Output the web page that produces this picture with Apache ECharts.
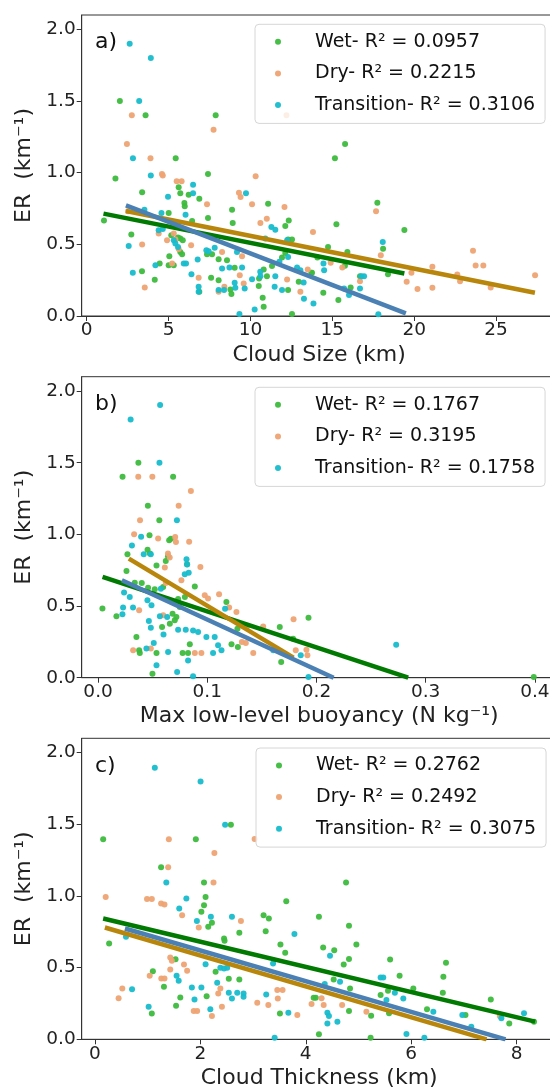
<!DOCTYPE html>
<html><head><meta charset="utf-8">
<script src="https://cdn.jsdelivr.net/npm/echarts@6/dist/echarts.min.js"></script>
<style>html,body{margin:0;padding:0;background:#fff}#c{width:550px;height:1091px}</style>
</head><body><div id="c"></div>
<script>
// ---------- data ----------
const panelLabels = ['a)', 'b)', 'c)'];
const xNames = ['Cloud Size (km)', 'Max low-level buoyancy (N kg\u207B\u00B9)', 'Cloud Thickness (km)'];
const yName = 'ER  (km\u207B\u00B9)';
const yTicks = [0, 0.5, 1.0, 1.5, 2.0];
const xTicksA = [0, 5, 10, 15, 20, 25];
const xTicksB = [0.0, 0.1, 0.2, 0.3, 0.4];
const xTicksC = [0, 2, 4, 6, 8];
const namesA = ['Wet- R\u00B2 = 0.0957', 'Dry- R\u00B2 = 0.2215', 'Transition- R\u00B2 = 0.3106'];
const namesB = ['Wet- R\u00B2 = 0.1767', 'Dry- R\u00B2 = 0.3195', 'Transition- R\u00B2 = 0.1758'];
const namesC = ['Wet- R\u00B2 = 0.2762', 'Dry- R\u00B2 = 0.2492', 'Transition- R\u00B2 = 0.3075'];

const wetA = [[2.03,1.50],[3.6,1.40],[7.88,1.40],[1.76,0.96],[5.44,1.10],[15.16,1.10],[15.78,1.20],[7.41,0.99],[17.75,0.79],[19.4,0.60],[15.25,0.64],
[3.39,0.864],[5.62,0.899],[5.72,0.857],[5.97,0.788],[5.99,0.765],[6.23,0.846],[6.88,0.818],[7.41,0.683],[8.88,0.741],[8.92,0.649],[11.08,0.783],[1.06,0.667],[5.01,0.718],[2.73,0.568],[5.17,0.563],[5.58,0.547],[5.72,0.54],[5.87,0.528],[6.44,0.663],[3.38,0.313],[4.16,0.253],[4.46,0.366],[5.05,0.417],[5.01,0.354],[5.32,0.354],[5.72,0.447],[5.83,0.431],[7.35,0.431],[7.66,0.431],[8.06,0.396],[8.57,0.389],[9.04,0.336],[7.6,0.266],[8.06,0.25],[6.88,0.169],[8.78,0.185],[8.84,0.153],[10.51,0.209],[10.75,0.127],[10.81,0.065],[10.53,0.262],[10.81,0.324],[11.01,0.278],[11.32,0.348],[11.93,0.408],[12.13,0.44],[12.3,0.533],[12.54,0.533],[12.13,0.628],[12.34,0.667],[12.54,0.014],[12.3,0.181],[12.95,0.239],[13.76,0.301],
[14.74,0.482],[15.92,0.447],[18.1,0.47],[14.09,0.408],[13.72,0.301],[14.45,0.162],[15.37,0.111],[16.12,0.199],[16.69,0.278],[18.4,0.292],[15.77,0.35]];
const dryA = [[2.76,1.40],[2.46,1.20],[7.75,1.30],[3.9,1.10],[4.6,0.99],[4.65,0.98],[10.32,0.975],[5.5,0.94],[5.8,0.94],[9.3,0.86],[9.4,0.83],[10.1,0.78],[7.35,0.78],[12.08,0.76],[17.67,0.73],[12.2,1.40],
[10.61,0.649],[11.0,0.679],[13.82,0.586],[2.53,0.73],[3.39,0.498],[4.4,0.575],[4.91,0.528],[5.32,0.575],[5.42,0.533],[5.62,0.468],[6.38,0.494],[6.84,0.266],[3.55,0.199],[5.22,0.366],[8.27,0.447],[9.49,0.417],[9.35,0.285],[9.59,0.227],[8.41,0.204],[8.06,0.169],[12.24,0.255],[13.05,0.169],[13.5,0.324],
[14.9,0.371],[15.61,0.338],[17.96,0.424],[16.69,0.243],[21.11,0.343],[19.83,0.301],[19.54,0.239],[20.2,0.188],[21.11,0.197],[22.63,0.29],[22.8,0.243],[23.59,0.456],[23.75,0.352],[24.22,0.352],[24.67,0.199],[27.38,0.285]];
const transA = [[2.63,1.90],[3.92,1.80],[3.21,1.50],[2.83,1.10],[3.92,0.98],
[6.5,0.915],[9.73,0.857],[4.97,0.832],[6.5,0.857],[6.04,0.707],[3.53,0.741],[4.57,0.718],[4.4,0.598],[4.65,0.607],[5.32,0.528],[5.42,0.505],[5.58,0.482],[2.57,0.489],[2.82,0.301],[4.2,0.354],[5.93,0.366],[6.07,0.366],[6.78,0.394],[6.4,0.292],[6.84,0.204],[6.84,0.169],[7.31,0.459],[7.45,0.452],[7.82,0.477],[8.27,0.331],[8.72,0.338],[9.18,0.447],[9.49,0.338],[9.04,0.232],[9.08,0.197],[9.65,0.192],[8.39,0.181],[8.06,0.181],[9.33,0.014],[10.26,0.046],[10.1,0.257],[10.6,0.308],[10.61,0.278],[11.28,0.621],[11.52,0.602],[10.91,0.54],[11.52,0.278],[11.48,0.204],[11.93,0.181],[12.3,0.412],[12.24,0.528],[11.77,0.378],[12.85,0.338],[13.05,0.32],[13.27,0.12],
[13.25,0.234],[13.85,0.088],[14.46,0.366],[14.5,0.32],[15.72,0.192],[16.02,0.146],[16.69,0.192],[16.94,0.278],[16.77,0.278],[18.08,0.517],[17.81,0.012]];

const wetB = [[0.0369,1.499],[0.0224,1.402],[0.0687,1.402],[0.0456,1.199],[0.0561,1.099],[0.0471,0.994],[0.399,0.005],[0.1927,0.419],[0.1664,0.354],[0.1677,0.109],[0.004,0.482],
[0.0651,0.959],[0.0667,0.97],[0.0453,0.893],[0.0269,0.861],[0.026,0.744],[0.0474,0.866],[0.062,0.815],[0.064,0.847],[0.0535,0.782],[0.0815,0.791],[0.0886,0.637],[0.0336,0.663],[0.04,0.661],[0.0168,0.428],[0.0458,0.628],[0.0519,0.617],[0.0596,0.633],[0.0733,0.549],[0.0795,0.563],[0.0657,0.377],[0.0702,0.4],[0.0682,0.447],[0.0717,0.424],[0.0586,0.354],[0.0351,0.284],[0.0376,0.191],[0.0382,0.172],[0.0535,0.172],[0.0498,0.028],[0.0774,0.172],[0.0824,0.172],[0.084,0.233],[0.1175,0.528],[0.1068,0.458],[0.1276,0.342],[0.1786,0.272],[0.0748,0.493],[0.1222,0.233],[0.128,0.214]];
const dryB = [[0.0368,1.402],[0.0497,1.402],[0.085,1.302],[0.0738,1.199],[0.0384,1.099],[0.033,1.001],[0.0834,0.948],[0.179,0.407],
[0.055,0.971],[0.0706,0.982],[0.0713,0.947],[0.064,0.866],[0.0656,0.838],[0.0611,0.768],[0.0937,0.773],[0.0763,0.68],[0.062,0.661],[0.0977,0.575],[0.1007,0.552],[0.1108,0.582],[0.12,0.489],[0.1267,0.458],[0.1353,0.242],[0.1421,0.172],[0.1512,0.358],[0.181,0.191],[0.1908,0.195],[0.1917,0.156],[0.0376,0.47],[0.0321,0.191],[0.0483,0.203],[0.0596,0.435],[0.0886,0.172],[0.0946,0.172],[0.1364,0.361],[0.1317,0.249]];
const transB = [[0.0298,1.802],[0.0568,1.902],[0.0562,1.499],[0.0722,1.099],[0.0394,0.983],[0.031,0.922],[0.273,0.23],[0.081,0.827],[0.083,0.733],
[0.0483,0.861],[0.0418,0.861],[0.0815,0.79],[0.0794,0.721],[0.0575,0.621],[0.0452,0.54],[0.0489,0.505],[0.0229,0.489],[0.0223,0.442],[0.032,0.489],[0.0238,0.594],[0.029,0.563],[0.0465,0.395],[0.0483,0.349],[0.0566,0.428],[0.0633,0.424],[0.0733,0.335],[0.0803,0.335],[0.087,0.33],[0.0916,0.319],[0.0992,0.284],[0.1068,0.284],[0.1099,0.226],[0.113,0.191],[0.1053,0.172],[0.0599,0.302],[0.051,0.242],[0.0641,0.179],[0.0443,0.203],[0.0535,0.086],[0.0724,0.039],[0.087,0.01],[0.0824,0.12],[0.1163,0.481],[0.1604,0.191],[0.1927,0.005],[0.1856,0.156]];

const wetC = [[0.157,1.396],[1.915,1.396],[2.58,1.496],[1.256,1.2],[2.07,1.094],[4.764,1.094],[2.1,0.993],[2.07,0.936],[2.02,0.89],[3.2,0.866],[3.3,0.843],[3.63,0.963],[4.25,0.855],[4.82,0.792],[0.27,0.669],[4.96,0.662],[5.6,0.557],[6.66,0.534],[5.78,0.443],[6.61,0.436],[7.51,0.278],[7.86,0.111],
[2.15,0.785],[2.22,0.813],[3.24,0.754],[2.45,0.703],[2.46,0.688],[2.74,0.743],[3.52,0.661],[3.61,0.603],[1.53,0.559],[1.1,0.475],[1.31,0.367],[1.62,0.292],[1.54,0.234],[1.08,0.18],[2.12,0.301],[2.29,0.471],[2.54,0.422],[2.74,0.417],[3.51,0.18],
[4.33,0.641],[4.54,0.622],[4.72,0.522],[4.82,0.561],[6.6,0.325],[5.42,0.309],[5.56,0.339],[6.04,0.355],[6.3,0.209],[5.58,0.181],[5.24,0.165],[4.82,0.197],[4.84,0.355],[4.53,0.418],[4.19,0.29],[4.15,0.29],[4.25,0.035],[5.23,0.011],[7.03,0.169],[8.33,0.123]];
const dryC = [[0.205,0.993],[1.403,1.396],[2.267,1.3],[1.39,1.2],[2.25,1.094],[3.03,1.398],[0.989,0.978],[1.08,0.978],[1.256,0.948],[1.32,0.941],[1.655,0.866],[1.97,0.78],[2.77,0.825],[0.45,0.286],[0.52,0.355],
[1.43,0.571],[1.46,0.548],[1.69,0.522],[1.75,0.478],[1.43,0.487],[1.04,0.443],[1.26,0.425],[1.32,0.425],[1.875,0.197],[1.94,0.197],[2.22,0.162],[2.41,0.227],[2.34,0.32],[2.38,0.355],[3.08,0.255],[3.29,0.239],[3.47,0.285],[3.46,0.344],[3.56,0.344],[3.84,0.169],
[4.11,0.246],[4.34,0.239],[4.3,0.286],[4.69,0.239],[5.15,0.193],[7.68,0.162]];
const transC = [[1.137,1.895],[2.005,1.798],[2.47,1.496],[1.355,1.094],[1.735,0.983],[1.935,0.825],[2.2,0.855],[2.6,0.855],[3.785,0.734],[0.59,0.715],[1.6,0.913],
[0.705,0.35],[1.02,0.227],[1.55,0.443],[1.59,0.408],[1.84,0.362],[2.02,0.362],[1.89,0.278],[2.1,0.524],[2.19,0.209],[2.32,0.394],[2.38,0.5],[2.45,0.494],[2.51,0.5],[2.54,0.325],[2.6,0.285],[2.7,0.325],[2.82,0.32],[2.82,0.297],[3.25,0.313],[3.38,0.529],[3.67,0.185],[3.41,0.011],
[4.46,0.583],[4.65,0.402],[4.36,0.385],[4.41,0.185],[4.44,0.162],[4.41,0.111],[4.6,0.123],[5.42,0.432],[5.47,0.432],[5.69,0.325],[5.85,0.285],[5.53,0.274],[6.42,0.193],[6.97,0.169],[7.14,0.088],[7.71,0.146],[8.14,0.181],[5.91,0.037],[6.25,0.011]];

// fit lines (endpoints)
const fitWetA = [[1.03,0.714],[19.4,0.297]];
const fitDryA = [[2.4,0.732],[27.37,0.162]];
const fitTransA = [[2.4,0.772],[19.49,0.019]];
const fitWetB = [[0.0041,0.703],[0.284,0.0]];
const fitDryB = [[0.0282,0.831],[0.179,0.14]];
const fitTransB = [[0.0218,0.68],[0.2157,0.0]];
const fitWetC = [[0.157,0.843],[8.35,0.123]];
const fitDryC = [[0.19,0.78],[7.43,0.0]];
const fitTransC = [[0.57,0.773],[7.79,0.0]];

// ---------- style / layout ----------
const FONT = 'DejaVu Sans';
const ptColors = ['#3dbb3d', '#eea372', '#17bccc'];
const lnColors = ['#007a00', '#b8860b', '#4a80b4'];
const gridTops = [15, 376.7, 738.3];
const gridH = 301;
const gridLeft = 81.7, gridW = 475;
const xRanges = [[-0.3, 28.7], [-0.015, 0.42], [-0.25, 8.76]];
const xTickSets = [xTicksA, xTicksB, xTicksC];
const xFmt = [v => String(Math.round(v)), v => v.toFixed(1), v => String(Math.round(v))];
const legendPos = [[255, 24.3], [255, 387.3], [256, 748]];

const pts = [[wetA, dryA, transA], [wetB, dryB, transB], [wetC, dryC, transC]];
const fits = [[fitWetA, fitDryA, fitTransA], [fitWetB, fitDryB, fitTransB], [fitWetC, fitDryC, fitTransC]];
const names = [namesA, namesB, namesC];

const axisCol = '#333';
const grid = [], xAxis = [], yAxis = [], series = [], legend = [], graphic = [];
for (let p = 0; p < 3; p++) {
  grid.push({left: gridLeft, top: gridTops[p], width: gridW, height: gridH, show: true,
    borderColor: axisCol, borderWidth: 1, backgroundColor: 'transparent',
    containLabel: false, outerBoundsMode: 'none'});
  xAxis.push({type: 'value', gridIndex: p, min: xRanges[p][0], max: xRanges[p][1],
    splitLine: {show: false},
    axisLine: {show: true, onZero: false, lineStyle: {color: axisCol, width: 1}},
    axisTick: {show: true, length: 5, lineStyle: {color: axisCol}, customValues: xTickSets[p]},
    axisLabel: {customValues: xTickSets[p], formatter: xFmt[p], fontFamily: FONT, fontSize: 18.5, color: '#222', margin: 5},
    name: xNames[p], nameLocation: 'middle', nameGap: 28,
    nameTextStyle: {fontFamily: FONT, fontSize: 22, color: '#222'}});
  yAxis.push({type: 'value', gridIndex: p, min: 0, max: 2.1,
    splitLine: {show: false},
    axisLine: {show: true, onZero: false, lineStyle: {color: axisCol, width: 1}},
    axisTick: {show: true, length: 5, lineStyle: {color: axisCol}, customValues: yTicks},
    axisLabel: {customValues: yTicks, formatter: v => v.toFixed(1), fontFamily: FONT, fontSize: 18.5, color: '#222', margin: 6},
    name: yName, nameLocation: 'middle', nameGap: 37, nameRotate: 90,
    nameTextStyle: {fontFamily: FONT, fontSize: 22, color: '#222'}});
  for (let s = 0; s < 3; s++) {
    series.push({type: 'scatter', name: names[p][s], xAxisIndex: p, yAxisIndex: p,
      data: pts[p][s], symbol: 'circle', symbolSize: 6, z: 2,
      itemStyle: {color: ptColors[s], opacity: 0.95}, silent: true});
  }
  for (let s = 0; s < 3; s++) {
    series.push({type: 'line', xAxisIndex: p, yAxisIndex: p, data: fits[p][s],
      showSymbol: false, symbol: 'none', z: 3, silent: true,
      lineStyle: {color: lnColors[s], width: 4.5, cap: 'butt'}});
  }
  legend.push({data: names[p].map(n => ({name: n, icon: 'circle'})), orient: 'vertical',
    left: legendPos[p][0], top: legendPos[p][1],
    padding: [6.4, 10, 7.3, 20], itemGap: 9.7, itemWidth: 12, itemHeight: 6,
    backgroundColor: 'rgba(255,255,255,0.8)', borderColor: '#d6d6d6', borderWidth: 1, borderRadius: 4,
    selectedMode: false,
    textStyle: {fontFamily: FONT, fontSize: 19, color: '#111', lineHeight: 22, padding: [0, 0, 0, 26]}});
  graphic.push({type: 'text', left: 95, top: gridTops[p] + 29.5 - 13,
    style: {text: panelLabels[p], font: '22px "DejaVu Sans"', fill: '#111'}});
}

const chart = echarts.init(document.getElementById('c'), null, {renderer: 'canvas', width: 550, height: 1091});
chart.setOption({animation: false, backgroundColor: '#fff', grid, xAxis, yAxis, series, legend, graphic});
</script></body></html>
